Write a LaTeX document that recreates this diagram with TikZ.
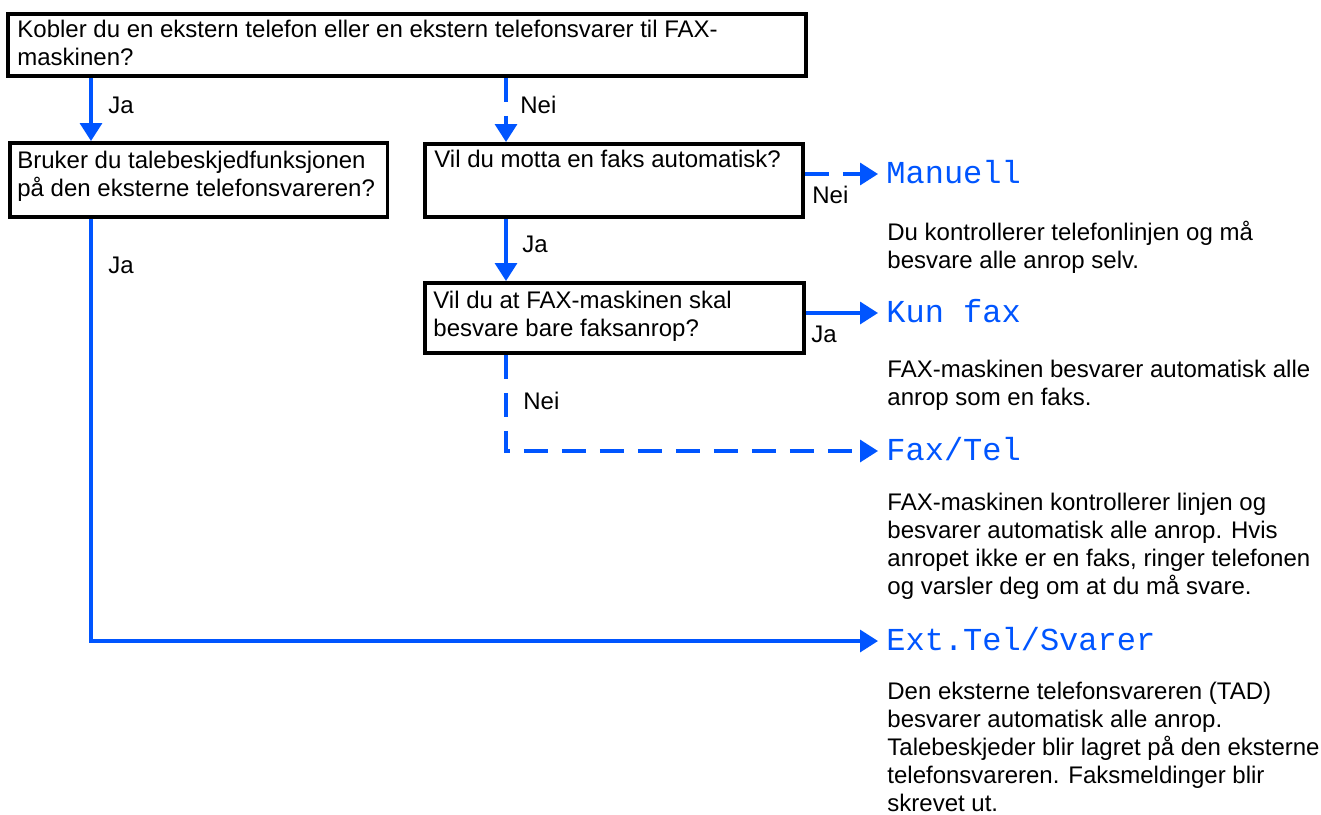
\documentclass[tikz,border=0pt]{standalone}
\usepackage{fontspec}
\setmainfont{Liberation Sans}
\newfontfamily\lcdfont{Liberation Mono}
\usepackage{tikz}
\usetikzlibrary{arrows.meta,positioning}
\definecolor{flowblue}{RGB}{0,85,255}

\begin{document}
\begin{tikzpicture}[x=0.5pt,y=-0.5pt,>={Triangle[length=9pt,width=11pt]},
    font=\fontsize{12}{14}\selectfont,
    qbox/.style={draw,line width=1.9pt,anchor=north west,inner sep=0pt},
    qtext/.style={anchor=base west,align=left,inner sep=0pt},
    lbl/.style={anchor=base west,inner sep=0pt},
    flow/.style={draw=flowblue,line width=1.7pt},
    flowdash/.style={flow,dash pattern=on 12pt off 7pt},
    mode/.style={anchor=west,inner xsep=4pt,inner ysep=0pt,text height=9pt,text depth=0pt,
        text=flowblue,font=\lcdfont\fontsize{16}{16}\selectfont}]
    \useasboundingbox (0,0) rectangle (1321,814);

    % questions (text nodes sit on the baseline of their last line)
    \node[qbox,minimum width=399pt,minimum height=31pt] (q1) at (6,12) {};
    \node[qbox,minimum width=188.75pt,minimum height=37pt] (q2) at (8,141) {};
    \node[qbox,minimum width=189pt,minimum height=36.5pt] (q3) at (423,142) {};
    \node[qbox,minimum width=189.5pt,minimum height=35pt] (q4) at (423,281) {};
    \node[qtext] (t1) at (17,65) {Kobler du en ekstern telefon eller en ekstern telefonsvarer til FAX-\\maskinen?};
    \node[qtext] (t2) at (17,196) {Bruker du talebeskjedfunksjonen\\på den eksterne telefonsvareren?};
    \node[qtext] (t3) at (434,167) {Vil du motta en faks automatisk?};
    \node[qtext] (t4) at (433,336) {Vil du at FAX-maskinen skal\\besvare bare faksanrop?};

    % modes
    \node[mode] (manuell) at (878,174) {Manuell};
    \node[mode] (kunfax) at (878,313) {Kun fax};
    \node[mode] (faxtel) at (878,451) {Fax/Tel};
    \node[mode] (exttel) at (878,641) {Ext.Tel/Svarer};
    \node[qtext] (d1) at (887,268) {Du kontrollerer telefonlinjen og må\\besvare alle anrop selv.};
    \node[qtext] (d2) at (887,405) {FAX-maskinen besvarer automatisk alle\\anrop som en faks.};
    \node[qtext] (d3) at (887,594) {FAX-maskinen kontrollerer linjen og\\besvarer automatisk alle anrop. Hvis\\anropet ikke er en faks, ringer telefonen\\og varsler deg om at du må svare.};
    \node[qtext] (d4) at (887,811) {Den eksterne telefonsvareren (TAD)\\besvarer automatisk alle anrop.\\Talebeskjeder blir lagret på den eksterne\\telefonsvareren. Faksmeldinger blir\\skrevet ut.};

    % answers
    \node[lbl] (ja1) at (108,113) {Ja};
    \node[lbl] (nei1) at (520,113) {Nei};
    \node[lbl] (nei2) at (812,203) {Nei};
    \node[lbl] (ja2) at (522,252) {Ja};
    \node[lbl] (ja3) at (811,342) {Ja};
    \node[lbl] (nei3) at (523,409) {Nei};
    \node[lbl] (ja4) at (108,273) {Ja};

    \coordinate (left) at (91,0);
    \coordinate (mid) at (506,0);
    \draw[flow,->] (q1.south -| left) -- (q2.north -| left);
    \draw[flowdash,->] (q1.south -| mid) -- (q3.north -| mid);
    \draw[flowdash,->] (q3.east |- manuell) -- (manuell.west);
    \draw[flow,->] (q3.south -| mid) -- (q4.north -| mid);
    \draw[flow,->] (q4.east |- kunfax) -- (kunfax.west);
    \draw[flowdash,->] (q4.south -| mid) |- (faxtel.west);
    \draw[flow,->] (q2.south -| left) |- (exttel.west);
\end{tikzpicture}
\end{document}
